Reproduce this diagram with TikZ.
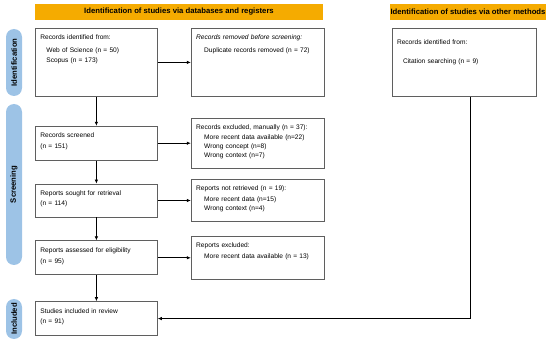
\documentclass[tikz,border=0pt]{standalone}
\usepackage{fontspec}
\setmainfont{Liberation Sans}
\usetikzlibrary{arrows.meta, positioning}
\definecolor{prismaorange}{RGB}{245,171,0}
\definecolor{phaseblue}{RGB}{157,195,230}
\definecolor{boxgray}{RGB}{95,95,95}
\newcommand{\subentry}[1][8pt]{\hspace*{#1}}

\begin{document}
\begin{tikzpicture}[
    node distance=23pt,
    header/.style={fill=prismaorange, minimum height=16pt, inner sep=0pt, font=\fontsize{7.7}{9}\selectfont\bfseries},
    phase/.style={fill=phaseblue, rounded corners=8pt, minimum height=16pt, inner sep=0pt, rotate=90, font=\fontsize{7.7}{9}\selectfont\bfseries},
    record/.style={rectangle, draw=boxgray, line width=0.8pt, align=left, inner xsep=5pt, inner ysep=0pt, text height=11.5pt, font=\fontsize{6.6}{10}\selectfont},
    leftbox/.style={record, text width=112pt},
    rightbox/.style={record, text width=123pt},
    arrow/.style={-{Latex[length=4pt, width=3.5pt]}, line width=0.7pt}
]
\useasboundingbox (0pt,0pt) rectangle (550pt,-342pt);

% headers and phases
\node[header, minimum width=288pt] (dbhead) at (179pt,-12pt) {Identification of studies via databases and registers};
\node[header, minimum width=156pt] (otherhead) at (468pt,-12pt) {Identification of studies via other methods};
\node[phase, minimum width=67pt] (idphase) at (14pt,-62.5pt) {Identification};
\node[phase, minimum width=161pt] (scphase) at (14pt,-184.5pt) {Screening};
\node[phase, minimum width=40pt] (inphase) at (14pt,-319pt) {Included};

% left column
\node[leftbox, text depth=56.5pt, anchor=north west] (ident) at (35pt,-28pt) {Records identified from:\\[2.5pt]\subentry[6pt]Web of Science (n = 50)\\\subentry[6pt]Scopus (n = 173)};
\node[leftbox, text depth=22.5pt, below=29pt of ident] (screen) {Records screened\\[1pt](n = 151)};
\node[leftbox, text depth=21.5pt, below=of screen] (sought) {Reports sought for retrieval\\(n = 114)};
\node[leftbox, text depth=22.5pt, below=of sought] (assess) {Reports assessed for eligibility\\[1.5pt](n = 95)};
\node[leftbox, text depth=22.5pt, below=26pt of assess] (incl) {Studies included in review\\[0.5pt](n = 91)};

% right column
\node[rightbox, text depth=56.5pt, right=33pt of ident] (removed) {\textit{Records removed before screening:}\\[3pt]\subentry Duplicate records removed (n = 72)};
\node[rightbox, text depth=38.5pt, right=33pt of screen] (excl) {Records excluded, manually (n = 37):\\[-0.5pt]\subentry More recent data available (n=22)\\[-1pt]\subentry Wrong concept (n=8)\\[-1pt]\subentry Wrong context (n=7)};
\node[rightbox, text depth=30.5pt, right=33pt of sought] (notret) {Reports not retrieved (n = 19):\\[1pt]\subentry More recent data (n=15)\\[-1.5pt]\subentry Wrong context (n=4)};
\node[rightbox, text depth=31.5pt, right=33pt of assess] (repexcl) {Reports excluded:\\[0.5pt]\subentry More recent data available (n = 13)};

% other methods
\node[record, text width=134pt, text height=16pt, text depth=52pt, right=67pt of removed] (cite) {Records identified from:\\[9.5pt]\subentry[6pt]Citation searching (n = 9)};

\draw[arrow] (ident) -- (screen);
\draw[arrow] (screen) -- (sought);
\draw[arrow] (sought) -- (assess);
\draw[arrow] (assess) -- (incl);
\draw[arrow] (ident) -- (removed);
\draw[arrow] (screen) -- (excl);
\draw[arrow] (sought) -- (notret);
\draw[arrow] (assess) -- (repexcl);
\draw[arrow] ([xshift=6pt]cite.south) |- (incl.east);
\end{tikzpicture}
\end{document}
